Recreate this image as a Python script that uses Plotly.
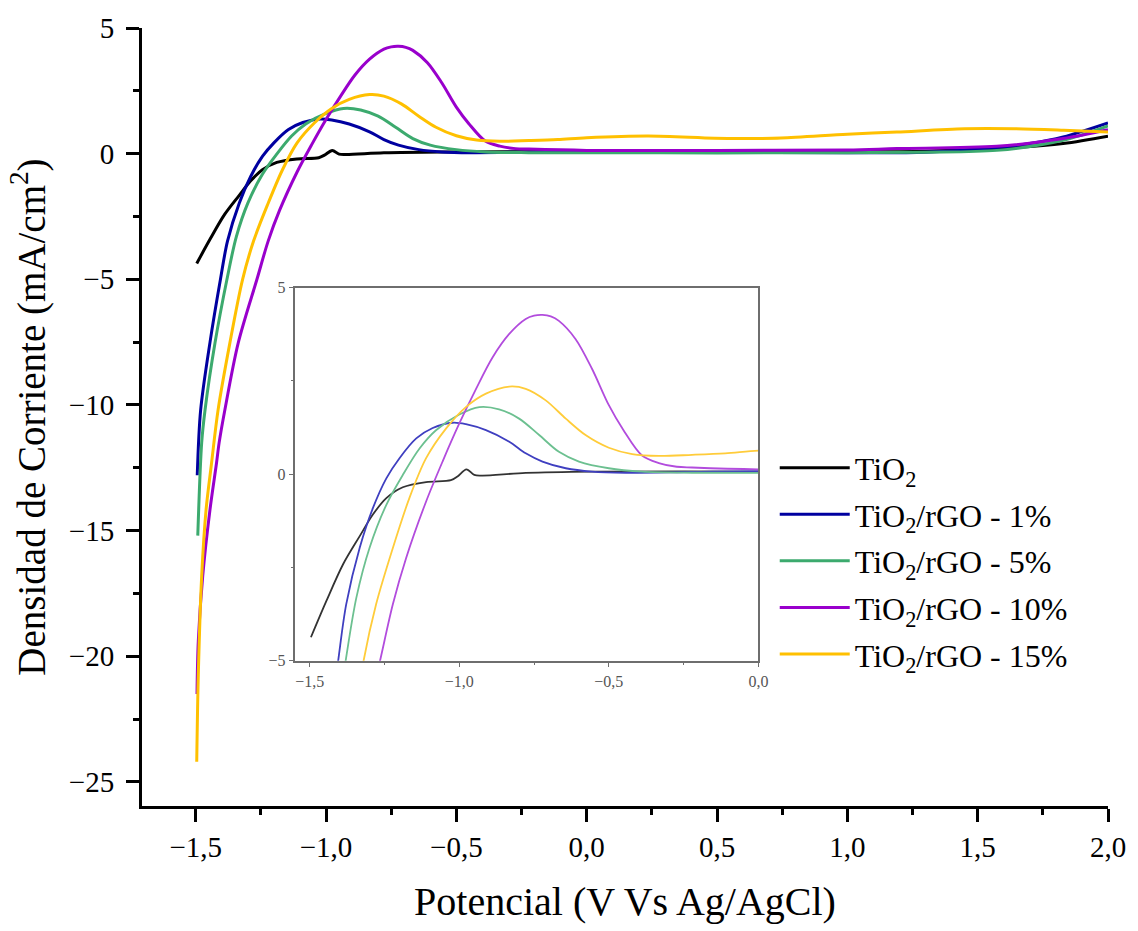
import plotly.graph_objects as go

# ---------------- data ----------------
names = ["TiO<sub>2</sub>", "TiO<sub>2</sub>/rGO - 1%", "TiO<sub>2</sub>/rGO - 5%",
         "TiO<sub>2</sub>/rGO - 10%", "TiO<sub>2</sub>/rGO - 15%"]
colors = ["#000000", "#0000A0", "#3CAA6E", "#9900CC", "#FFC000"]
inset_colors = ["#333333", "#3F3FC0", "#6CC090", "#B24CDD", "#FFCC3A"]

x_tio2 = [-1.496, -1.444, -1.389, -1.333, -1.289, -1.244, -1.189, -1.111, -1.028, -1.006,
          -0.976, -0.950, -0.922, -0.778, -0.556, 0.0, 0.5, 1.0, 1.3, 1.573, 1.828, 2.0]
y_tio2 = [-4.37, -3.39, -2.42, -1.66, -1.08, -0.64, -0.35, -0.21, -0.16, -0.06,
          0.13, -0.02, -0.035, 0.035, 0.07, 0.07, 0.06, 0.07, 0.10, 0.20, 0.40, 0.69]

x_1 = [-1.494, -1.481, -1.445, -1.405, -1.378, -1.333, -1.289, -1.244, -1.2, -1.144, -1.089,
       -1.022, -0.978, -0.911, -0.833, -0.778, -0.722, -0.644, -0.556, -0.444, -0.222, 0.0,
       0.5, 1.0, 1.3, 1.573, 1.70, 1.828, 2.0]
y_1 = [-12.8, -10.2, -7.5, -5.0, -3.48, -1.97, -0.91, -0.11, 0.43, 0.96, 1.24,
       1.38, 1.34, 1.18, 0.87, 0.56, 0.34, 0.16, 0.07, 0.04, 0.06, 0.08,
       0.05, 0.04, 0.06, 0.24, 0.40, 0.66, 1.22]

x_5 = [-1.492, -1.477, -1.464, -1.426, -1.38, -1.344, -1.3, -1.244, -1.189, -1.133, -1.078,
       -1.0, -0.933, -0.867, -0.8, -0.733, -0.667, -0.6, -0.5, -0.389, -0.222, 0.0,
       0.5, 1.0, 1.3, 1.573, 1.828, 2.0]
y_5 = [-15.2, -11.5, -10.19, -7.54, -5.0, -3.30, -1.97, -0.82, -0.02, 0.69, 1.18,
       1.60, 1.80, 1.74, 1.49, 1.05, 0.60, 0.34, 0.16, 0.07, 0.04, 0.035,
       0.03, 0.04, 0.06, 0.13, 0.53, 1.10]

x_10 = [-1.495, -1.49, -1.473, -1.445, -1.42, -1.41, -1.388, -1.337, -1.265, -1.222, -1.178,
        -1.111, -1.056, -1.0, -0.944, -0.889, -0.833, -0.778, -0.75, -0.722, -0.694, -0.667,
        -0.611, -0.556, -0.5, -0.452, -0.389, -0.333, -0.273, -0.222, 0.0, 0.5, 1.0, 1.19,
        1.573, 1.828, 2.0]
y_10 = [-21.5, -19.4, -16.8, -14.15, -12.3, -11.5, -10.19, -7.54, -5.0, -3.48, -2.25,
        -0.73, 0.34, 1.36, 2.29, 3.13, 3.76, 4.16, 4.25, 4.27, 4.23, 4.11,
        3.62, 2.82, 1.85, 1.19, 0.50, 0.30, 0.20, 0.18, 0.13, 0.13, 0.15, 0.20,
        0.29, 0.60, 0.95]

x_15 = [-1.496, -1.49, -1.477, -1.46, -1.439, -1.414, -1.369, -1.32, -1.278, -1.225, -1.167,
        -1.111, -1.044, -0.978, -0.911, -0.833, -0.778, -0.711, -0.644, -0.578, -0.5, -0.422,
        -0.333, -0.222, -0.111, 0.0, 0.236, 0.491, 0.618, 0.745, 1.0, 1.19, 1.45, 1.64, 1.83, 2.0]
y_15 = [-24.2, -20.75, -16.8, -14.15, -12.3, -10.19, -7.54, -5.0, -3.48, -2.05, -0.64,
        0.43, 1.23, 1.80, 2.16, 2.35, 2.29, 1.98, 1.49, 1.05, 0.71, 0.54,
        0.49, 0.52, 0.56, 0.63, 0.70, 0.61, 0.60, 0.62, 0.77, 0.86, 0.99, 0.99, 0.93, 0.86]

xs = [x_tio2, x_1, x_5, x_10, x_15]
ys = [y_tio2, y_1, y_5, y_10, y_15]

x_ticks_main = [-1.5, -1.0, -0.5, 0.0, 0.5, 1.0, 1.5, 2.0]
y_ticks_main = [5, 0, -5, -10, -15, -20, -25]
x_ticks_inset = [-1.5, -1.0, -0.5, 0.0]
y_ticks_inset = [5, 0, -5]

# ---------------- figure ----------------
FONT = "Liberation Serif"
fig = go.Figure()

for i, (n, c, x, y) in enumerate(zip(names, colors, xs, ys)):
    fig.add_trace(go.Scatter(x=x, y=y, mode="lines", name=n, legendgroup=f"g{i}",
                             line=dict(color=c, width=3, shape="spline", smoothing=0.9),
                             xaxis="x", yaxis="y"))

for i, (n, c, x, y) in enumerate(zip(names, inset_colors, xs, ys)):
    fig.add_trace(go.Scatter(x=x, y=y, mode="lines", name=n, showlegend=False,
                             legendgroup=f"g{i}",
                             line=dict(color=c, width=1.8, shape="spline", smoothing=0.9),
                             xaxis="x2", yaxis="y2"))

fig.update_layout(
    width=1138, height=931,
    margin=dict(l=142, r=26, t=24, b=125),
    paper_bgcolor="white", plot_bgcolor="white",
    font=dict(family=FONT, color="black"),
    separators=",.",
    showlegend=True,
    legend=dict(x=0.655, y=0.47, xanchor="left", yanchor="top",
                font=dict(size=32, family=FONT, color="black"),
                traceorder="grouped", tracegroupgap=2,
                bgcolor="rgba(0,0,0,0)", itemwidth=70),
    xaxis=dict(range=[-1.706, 2.0], tickvals=x_ticks_main, tickformat=".1f",
               showline=True, linecolor="black", linewidth=3, mirror=False,
               ticks="outside", ticklen=13, tickwidth=2.5, tickcolor="black",
               minor=dict(dtick=0.25, tick0=0, ticks="outside", ticklen=6,
                          tickwidth=2.5, tickcolor="black"),
               showgrid=False, zeroline=False,
               tickfont=dict(size=29, family=FONT, color="black"),
               title=dict(text="Potencial (V Vs Ag/AgCl)",
                          font=dict(size=40, family=FONT, color="black"),
                          standoff=26)),
    yaxis=dict(range=[-25.96, 5], tickvals=y_ticks_main, tickformat="d",
               showline=True, linecolor="black", linewidth=3, mirror=False,
               ticks="outside", ticklen=13, tickwidth=2.5, tickcolor="black",
               ticklabelstandoff=6,
               minor=dict(dtick=2.5, tick0=0, ticks="outside", ticklen=6,
                          tickwidth=2.5, tickcolor="black"),
               showgrid=False, zeroline=False,
               tickfont=dict(size=29, family=FONT, color="black"),
               title=dict(text="Densidad de Corriente (mA/cm<sup>2</sup>)",
                          font=dict(size=39, family=FONT, color="black"), standoff=12)),
    xaxis2=dict(domain=[0.1588, 0.6381], anchor="y2", range=[-1.548, 0.0],
                tickvals=x_ticks_inset, tickformat=".1f",
                showline=True, linecolor="#6e6e6e", linewidth=1.5, mirror=True,
                ticks="outside", ticklen=5, tickwidth=1.2, tickcolor="#6e6e6e",
                minor=dict(dtick=0.25, tick0=0, ticks="outside", ticklen=3,
                           tickwidth=1.2, tickcolor="#6e6e6e"),
                showgrid=False, zeroline=False,
                tickfont=dict(size=16, family=FONT, color="#555555")),
    yaxis2=dict(domain=[0.1867, 0.6662], anchor="x2", range=[-5, 5],
                tickvals=y_ticks_inset, tickformat="d",
                showline=True, linecolor="#6e6e6e", linewidth=1.5, mirror=True,
                ticks="outside", ticklen=5, tickwidth=1.2, tickcolor="#6e6e6e",
                minor=dict(dtick=2.5, tick0=0, ticks="outside", ticklen=3,
                           tickwidth=1.2, tickcolor="#6e6e6e"),
                showgrid=False, zeroline=False,
                tickfont=dict(size=16, family=FONT, color="#555555")),
)

fig.write_html("out.html")
